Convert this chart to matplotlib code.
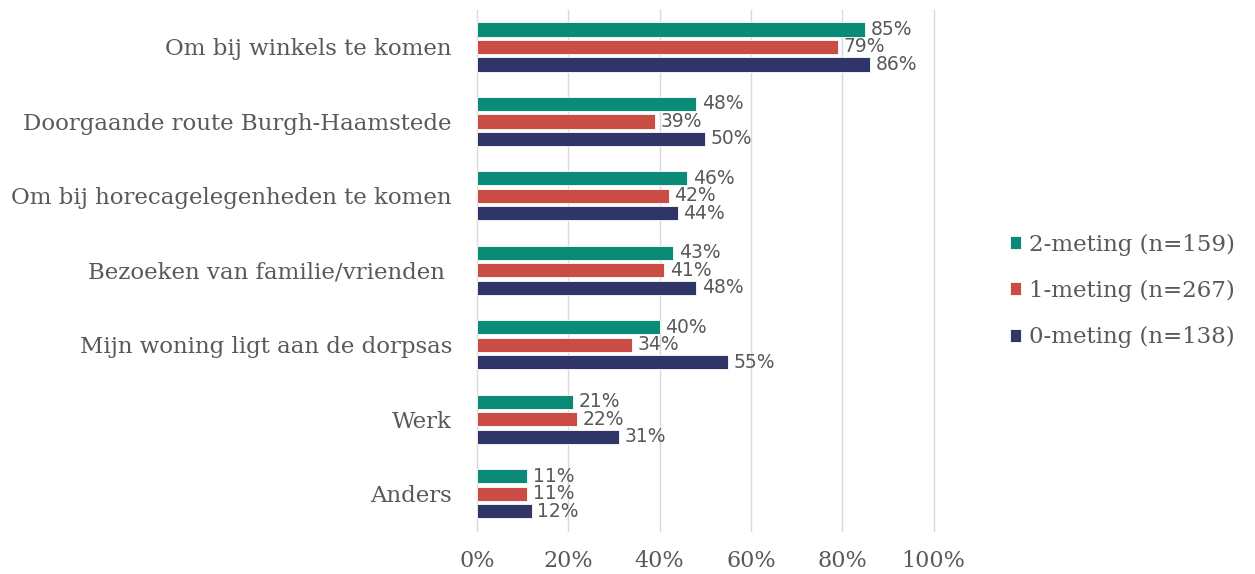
import numpy as np
import matplotlib.pyplot as plt

categories = ["Om bij winkels te komen", "Doorgaande route Burgh-Haamstede",
              "Om bij horecagelegenheden te komen", "Bezoeken van familie/vrienden ",
              "Mijn woning ligt aan de dorpsas", "Werk", "Anders"]
meting2 = [85, 48, 46, 43, 40, 21, 11]
meting1 = [79, 39, 42, 41, 34, 22, 11]
meting0 = [86, 50, 44, 48, 55, 31, 12]
series = ["2-meting (n=159)", "1-meting (n=267)", "0-meting (n=138)"]
colors = ["#0B8A78", "#C94C45", "#2F3567"]

text_gray = "#595959"
serif = ["DejaVu Serif"]

fig = plt.figure(figsize=(12.55, 5.74), dpi=100)
ax = fig.add_axes([0.380, 0.075, 0.364, 0.908])

y = np.arange(len(categories))
offs = [-0.235, 0.0, 0.235]
h = 0.19
for vals, off, col, lab in zip([meting2, meting1, meting0], offs, colors, series):
    bars = ax.barh(y + off, vals, height=h, color=col, edgecolor="white",
                   linewidth=0.6, label=lab, zorder=3)
    for b, v in zip(bars, vals):
        ax.annotate(f"{v}%", (b.get_width(), b.get_y() + b.get_height() / 2),
                    xytext=(4, 0), textcoords="offset points", va="center",
                    ha="left", fontsize=13.5, color=text_gray, zorder=4)

ax.set_xlim(0, 100)
ax.set_ylim(len(categories) - 0.5, -0.5)
ax.set_xticks(range(0, 101, 20))
ax.set_xticklabels([f"{t}%" for t in range(0, 101, 20)], family=serif,
                   fontsize=16, color=text_gray)
ax.set_yticks(y)
ax.set_yticklabels(categories, family=serif, fontsize=16.5, color=text_gray)
ax.tick_params(axis="both", length=0)
ax.tick_params(axis="y", pad=18)
ax.tick_params(axis="x", pad=14)
ax.grid(axis="x", color="#D9D9D9", linewidth=1, zorder=0)
for gl in ax.get_xgridlines():
    gl.set_clip_on(False)
for s in ax.spines.values():
    s.set_visible(False)

leg = fig.legend(loc="center left", bbox_to_anchor=(0.788, 0.493), frameon=False,
                 prop={"family": serif, "size": 16.5}, labelcolor=text_gray,
                 handlelength=0.5, handleheight=0.5, handletextpad=0.35,
                 labelspacing=1.05)

plt.savefig("out.png", dpi=100)
